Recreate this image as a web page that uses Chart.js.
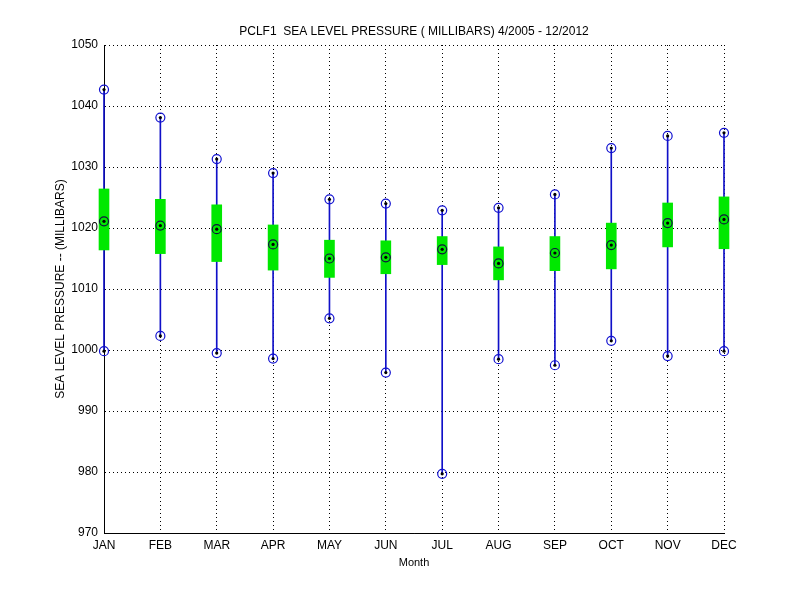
<!DOCTYPE html>
<html>
<head>
<meta charset="utf-8">
<script src="https://cdn.jsdelivr.net/npm/chart.js@4"></script>
<style>
  html, body { margin: 0; padding: 0; background: #fff; }
  #wrap { width: 800px; height: 600px; }
</style>
</head>
<body>
<div id="wrap"><canvas id="slpChart" width="800" height="600"></canvas></div>
<script>
// Monthly sea level pressure stats (millibars)
const MONTHS = ['JAN', 'FEB', 'MAR', 'APR', 'MAY', 'JUN', 'JUL', 'AUG', 'SEP', 'OCT', 'NOV', 'DEC'];
const MAX_P  = [1042.7, 1038.1, 1031.3, 1029.0, 1024.7, 1024.0, 1022.9, 1023.3, 1025.5, 1033.1, 1035.1, 1035.6];
const MEAN_P = [1021.1, 1020.4, 1019.8, 1017.3, 1015.0, 1015.2, 1016.5, 1014.2, 1015.9, 1017.2, 1020.8, 1021.4];
const MIN_P  = [999.8, 1002.3, 999.5, 998.6, 1005.2, 996.3, 979.7, 998.5, 997.5, 1001.5, 999.0, 999.8];
const BOX_HI = [1026.4, 1024.7, 1023.8, 1020.5, 1018.0, 1017.9, 1018.6, 1016.9, 1018.6, 1020.8, 1024.1, 1025.1];
const BOX_LO = [1016.4, 1015.8, 1014.5, 1013.1, 1011.9, 1012.5, 1014.0, 1011.5, 1013.0, 1013.3, 1016.9, 1016.6];
const Y_TICKS = [970, 980, 990, 1000, 1010, 1020, 1030, 1040, 1050];

const FONT = 'Arial, "Liberation Sans", sans-serif';

const rangeBars = MIN_P.map((v, i) => [v, MAX_P[i]]);
const boxBars = BOX_LO.map((v, i) => [v, BOX_HI[i]]);

function markerSet(values, ring) {
    return {
        type: 'line',
        data: values,
        showLine: false,
        clip: false,
        pointStyle: 'circle',
        pointRadius: 4.5,
        pointBorderWidth: 1.2,
        pointBorderColor: ring,
        pointBackgroundColor: 'rgba(0,0,0,0)',
        order: 1
    };
}

function dotSet(values) {
    return {
        type: 'line',
        data: values,
        showLine: false,
        clip: false,
        pointStyle: 'circle',
        pointRadius: 1.6,
        pointBorderWidth: 0,
        pointBackgroundColor: '#000',
        order: 0
    };
}

const ctx = document.getElementById('slpChart').getContext('2d');
new Chart(ctx, {
    type: 'bar',
    data: {
        labels: MONTHS,
        datasets: [
            {
                // min-max whisker
                data: rangeBars,
                backgroundColor: '#1010c8',
                barThickness: 1,
                grouped: false,
                clip: false,
                order: 3
            },
            {
                // green box
                data: boxBars,
                backgroundColor: '#00e800',
                barThickness: 10,
                grouped: false,
                clip: false,
                order: 2
            },
            markerSet(MAX_P, '#1010d0'),
            markerSet(MIN_P, '#1010d0'),
            markerSet(MEAN_P, '#101040'),
            dotSet(MAX_P),
            dotSet(MIN_P),
            dotSet(MEAN_P)
        ]
    },
    options: {
        responsive: false,
        animation: false,
        events: [],
        layout: {
            padding: { left: 0, right: 76, top: 0, bottom: 0 }
        },
        scales: {
            x: {
                type: 'category',
                offset: false,
                grid: {
                    offset: false,
                    color: '#000',
                    lineWidth: 1,
                    drawTicks: false
                },
                border: { display: true, color: '#000', width: 1, dash: [1, 3] },
                ticks: {
                    color: '#000',
                    padding: 5,
                    autoSkip: false,
                    maxRotation: 0,
                    font: { family: FONT, size: 12 }
                },
                title: {
                    display: true,
                    text: 'Month',
                    color: '#000',
                    font: { family: FONT, size: 11 },
                    padding: { top: 0, bottom: 30 }
                },
                afterFit(scale) { scale.height = 67; }
            },
            y: {
                type: 'linear',
                min: 970,
                max: 1050,
                afterBuildTicks(scale) {
                    scale.ticks = Y_TICKS.map(v => ({ value: v }));
                },
                grid: {
                    color: '#000',
                    lineWidth: 1,
                    drawTicks: false
                },
                border: { display: true, color: '#000', width: 1, dash: [1, 3] },
                ticks: {
                    color: '#000',
                    padding: 6,
                    font: { family: FONT, size: 12 },
                    callback: value => String(value)
                },
                title: {
                    display: true,
                    text: 'SEA LEVEL PRESSURE -- (MILLIBARS)',
                    color: '#000',
                    font: { family: FONT, size: 12 },
                    padding: { top: 53, bottom: 0 }
                },
                afterFit(scale) { scale.width = 104; }
            }
        },
        plugins: {
            legend: { display: false },
            tooltip: { enabled: false },
            title: {
                display: true,
                fullSize: false,
                text: 'PCLF1  SEA LEVEL PRESSURE ( MILLIBARS) 4/2005 - 12/2012',
                color: '#000',
                font: { family: FONT, size: 12, weight: 'normal' },
                padding: { top: 24, bottom: 6.6 }
            }
        }
    },
    plugins: [{
        // solid left/bottom axis lines like the original
        id: 'axisLines',
        beforeDatasetsDraw(chart) {
            const { ctx, chartArea: a } = chart;
            ctx.save();
            ctx.strokeStyle = '#000';
            ctx.lineWidth = 1;
            ctx.beginPath();
            ctx.moveTo(a.left + 0.5, a.top);
            ctx.lineTo(a.left + 0.5, a.bottom + 0.5);
            ctx.lineTo(a.right, a.bottom + 0.5);
            ctx.stroke();
            ctx.restore();
        }
    }]
});
</script>
</body>
</html>
